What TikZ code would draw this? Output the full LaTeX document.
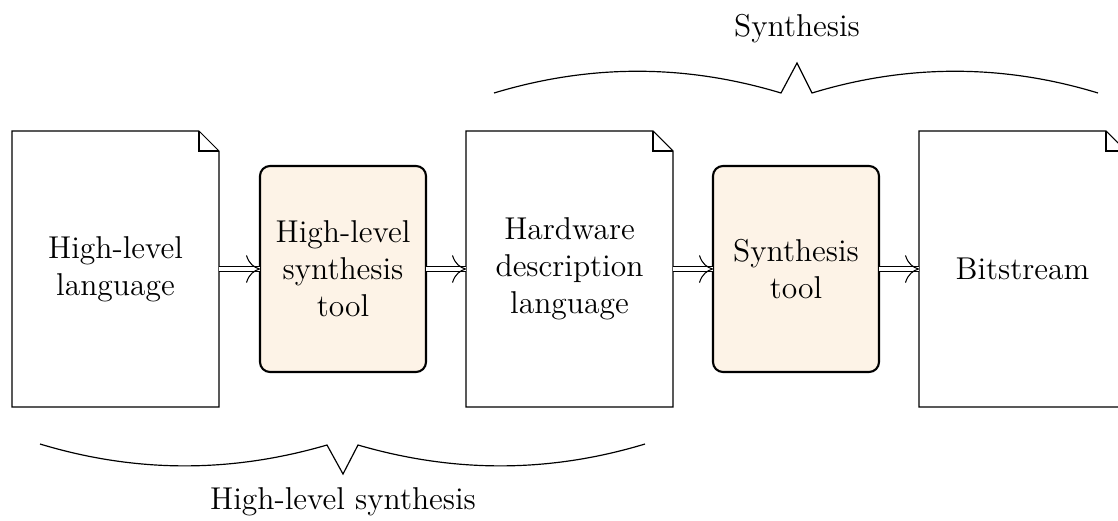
\documentclass[tikz,border=0pt]{standalone}
\usetikzlibrary{arrows.meta,decorations.markings}
\definecolor{toolfill}{RGB}{253,243,231}
\tikzset{
  docnode/.style={rectangle, draw=none, inner sep=0pt, outer sep=0pt,
    minimum width=78.70pt, minimum height=104.94pt, align=center, font=\large},
  toolnode/.style={rectangle, rounded corners=3.8pt, draw=black, line width=0.8pt,
    fill=toolfill, inner sep=0pt, outer sep=0pt, minimum width=63.11pt, minimum height=78.32pt,
    align=center, font=\large},
  docline/.style={draw=black, line width=0.4pt, line join=miter},
  flow/.style={double, double distance=1.2pt, line width=0.4pt,
    postaction={decorate, decoration={markings,
      mark=at position 1 with {\pgfsetinnerlinewidth{0pt}\arrow[line width=0.4pt]{To[length=5.3pt, width=10.5pt]}}}}},
  bracel/.style={draw=black, line width=0.45pt, line join=miter},
  lbl/.style={inner sep=0pt, font=\large}
}
\begin{document}
\begin{tikzpicture}[x=0.3802pt, y=-0.3802pt]
\useasboundingbox (0,0) rectangle (1118,520);
\clip (0,0) rectangle (1118,520);
\node[docnode] (hll) at (115.5,269) {High-level\\language};
\node[toolnode] (hlst) at (343,269) {High-level\\synthesis\\tool};
\node[docnode] (hdl) at (569.5,269) {Hardware\\description\\language};
\node[toolnode] (st) at (796,269) {Synthesis\\tool};
\node[docnode] (bit) at (1022.5,269) {Bitstream};
\foreach \n in {hll,hdl,bit}{
  \draw[docline] (\n.south west) -- (\n.north west) -- ([xshift=-7.6pt]\n.north east)
    -- ([yshift=-7.6pt]\n.north east) -- (\n.south east) -- cycle;
  \draw[docline] ([xshift=-7.6pt]\n.north east) |- ([yshift=-7.6pt]\n.north east);
}
\draw[flow] (hll) -- (hlst);
\draw[flow] (hlst) -- (hdl);
\draw[flow] (hdl) -- (st);
\draw[flow] (st) -- (bit);
% top brace
\draw[bracel] (494,93) .. controls (590,64) and (685,64) .. (781,93)
  -- (797,63) -- (812,93) .. controls (907,64) and (1003,64) .. (1098,93);
\node[lbl] (synlbl) at (797,29) {Synthesis};
% bottom brace
\draw[bracel] (40,444) .. controls (136,473) and (231,473) .. (327,445)
  -- (343,474) -- (358,445) .. controls (454,473) and (549,473) .. (645,444);
\node[lbl] (hlslbl) at (343,502) {High-level synthesis};
\end{tikzpicture}
\end{document}
